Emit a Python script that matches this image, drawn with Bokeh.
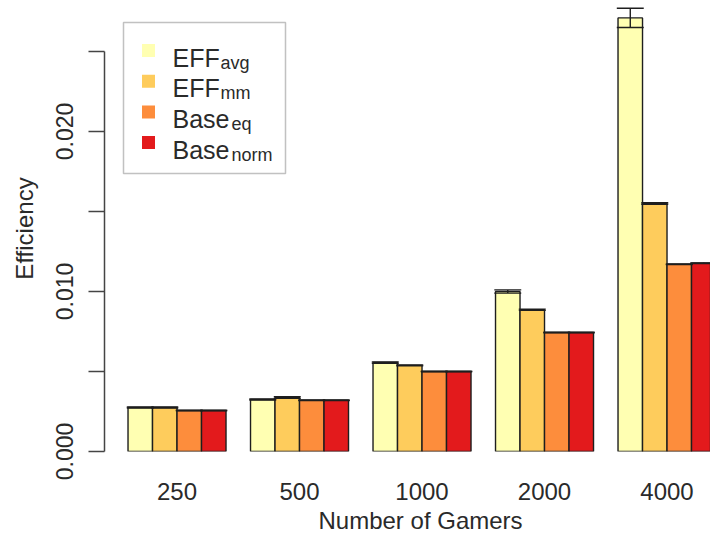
from bokeh.plotting import figure
from bokeh.models import (Range1d, FixedTicker, NumeralTickFormatter, CustomJSTickFormatter,
                          ColumnDataSource, BoxAnnotation, Title)
from bokeh.core.properties import value
from bokeh.embed import file_html
from bokeh.resources import INLINE

# ---------------- data ----------------
groups = ["250", "500", "1000", "2000", "4000"]
series_main = ["EFF", "EFF", "Base", "Base"]
series_sub = ["avg", "mm", "eq", "norm"]
colors = ["#FFFFB2", "#FECC5C", "#FD8D3C", "#E31A1C"]

eff_avg = [0.00275, 0.00325, 0.00556, 0.01000, 0.02710]
eff_mm = [0.00275, 0.00338, 0.00538, 0.00886, 0.01550]
base_eq = [0.00256, 0.00320, 0.00500, 0.00744, 0.01170]
base_norm = [0.00256, 0.00320, 0.00500, 0.00744, 0.01177]

eff_avg_err = [0.00003, 0.00003, 0.00004, 0.00010, 0.00060]
eff_mm_err = [0.00003, 0.00005, 0.00003, 0.00004, 0.00005]
base_eq_err = [0.00002, 0.00002, 0.00002, 0.00002, 0.00002]
base_norm_err = [0.00002, 0.00002, 0.00002, 0.00002, 0.00002]

y_major_ticks = [0.000, 0.010, 0.020]
y_minor_ticks = [0.005, 0.015, 0.025]

x_title = "Number of Gamers"
y_title = "Efficiency"

values = [eff_avg, eff_mm, base_eq, base_norm]
errors = [eff_avg_err, eff_mm_err, base_eq_err, base_norm_err]

# ---------------- layout helpers (R barplot: width 1, space 1) ----------------
BAR_W = 1.0
GROUP_STEP = len(series_main) + 1
X0 = 0.04
PX_PER_UNIT = 24.5
PX_PER_VAL = 16000.0
FRAME_LEFT, FRAME_BOTTOM, FRAME_TOP = 104, 451, 5
W, H = 710, 538

def dx(px):
    return X0 + (px - FRAME_LEFT) / PX_PER_UNIT

def dy(py):
    return (FRAME_BOTTOM - py) / PX_PER_VAL

xs, tops, cols, lo, hi = [], [], [], [], []
for gi in range(len(groups)):
    for si in range(len(series_main)):
        x = 1 + GROUP_STEP * gi + si + BAR_W / 2
        v = values[si][gi]
        e = errors[si][gi]
        xs.append(x)
        tops.append(v)
        cols.append(colors[si])
        lo.append(v - e)
        hi.append(v + e)

src = ColumnDataSource(dict(x=xs, top=tops, color=cols, lo=lo, hi=hi,
                            cl=[x - 0.55 for x in xs], cr=[x + 0.55 for x in xs]))

p = figure(width=W, height=H,
           x_range=Range1d(X0, X0 + (W - FRAME_LEFT) / PX_PER_UNIT),
           y_range=Range1d(0, (FRAME_BOTTOM - FRAME_TOP) / PX_PER_VAL),
           output_backend="svg", toolbar_location=None,
           min_border_left=FRAME_LEFT, min_border_right=0,
           min_border_top=FRAME_TOP, min_border_bottom=H - FRAME_BOTTOM)

p.vbar(x="x", top="top", bottom=0, width=BAR_W, fill_color="color", source=src,
       line_color="#1e1e1e", line_width=1.4)
p.segment(x0="x", x1="x", y0="lo", y1="hi", source=src, line_color="#1e1e1e", line_width=1.4)
p.segment(x0="cl", x1="cr", y0="hi", y1="hi", source=src, line_color="#1e1e1e", line_width=1.4)
p.segment(x0="cl", x1="cr", y0="lo", y1="lo", source=src, line_color="#1e1e1e", line_width=1.4)

FONT = "Liberation Sans"
TXT = "#2a2a2a"
FS = "24px"

# y axis
ya = p.yaxis[0]
ya.ticker = FixedTicker(ticks=y_major_ticks, minor_ticks=y_minor_ticks)
ya.formatter = NumeralTickFormatter(format="0.000")
ya.bounds = (y_major_ticks[0], y_minor_ticks[-1])
ya.major_label_orientation = "vertical"
ya.major_tick_out = 16
ya.major_tick_in = 0
ya.minor_tick_out = 16
ya.minor_tick_in = 0
for attr in ["axis_line", "major_tick_line", "minor_tick_line"]:
    setattr(ya, attr + "_color", "#444444")
    setattr(ya, attr + "_width", 1.5)
ya.major_label_text_font = FONT
ya.major_label_text_font_size = "23px"
ya.major_label_text_color = TXT
ya.major_label_standoff = 16
ya.axis_label = y_title
ya.axis_label_text_font = FONT
ya.axis_label_text_font_size = FS
ya.axis_label_text_font_style = "normal"
ya.axis_label_text_color = TXT
ya.axis_label_standoff = 15

# x axis
xa = p.xaxis[0]
xa.ticker = FixedTicker(ticks=[1 + GROUP_STEP * gi + len(series_main) / 2 for gi in range(len(groups))])
xa.formatter = CustomJSTickFormatter(args=dict(labels=groups, step=GROUP_STEP),
                                     code="return labels[Math.round((tick - 3) / step)];")
xa.axis_line_color = None
xa.major_tick_line_color = None
xa.minor_tick_line_color = None
xa.major_label_text_font = FONT
xa.major_label_text_font_size = FS
xa.major_label_text_color = TXT
xa.major_label_standoff = 25

# x title: placed as in R, centred on the full plot region (which runs past the cropped edge)
p.add_layout(Title(text=x_title, align="left", offset=214, standoff=4,
                   text_font=FONT, text_font_size=FS, text_font_style="normal",
                   text_color=TXT), "below")

p.grid.visible = False
p.outline_line_color = None
p.background_fill_color = "white"

# ---------------- legend (drawn by hand for subscripts) ----------------
p.add_layout(BoxAnnotation(left=dx(123), right=dx(285), top=dy(22), bottom=dy(173),
                           fill_color=None, fill_alpha=0, line_color="#333333", line_width=1.5))
row_base = [57 + 30.7 * i for i in range(len(series_main))]
sub_px = [220 if m == "EFF" else 231 for m in series_main]
leg = ColumnDataSource(dict(
    sx=[dx(148)] * len(series_main), sy=[dy(b - 7) for b in row_base], color=colors,
    tx=[dx(172)] * len(series_main), ty=[dy(b) for b in row_base], main=series_main,
    subx=[dx(s) for s in sub_px], suby=[dy(b + 5) for b in row_base], sub=series_sub))
p.scatter(x="sx", y="sy", marker="square", size=13, fill_color="color", line_color=None, source=leg)
p.text(x="tx", y="ty", text="main", source=leg, text_font=value(FONT), text_font_size="25px",
       text_color=TXT, text_baseline="alphabetic", text_align="left")
p.text(x="subx", y="suby", text="sub", source=leg, text_font=value(FONT), text_font_size="18px",
       text_color=TXT, text_baseline="alphabetic", text_align="left")

open("out.html", "w").write(file_html(p, INLINE))
